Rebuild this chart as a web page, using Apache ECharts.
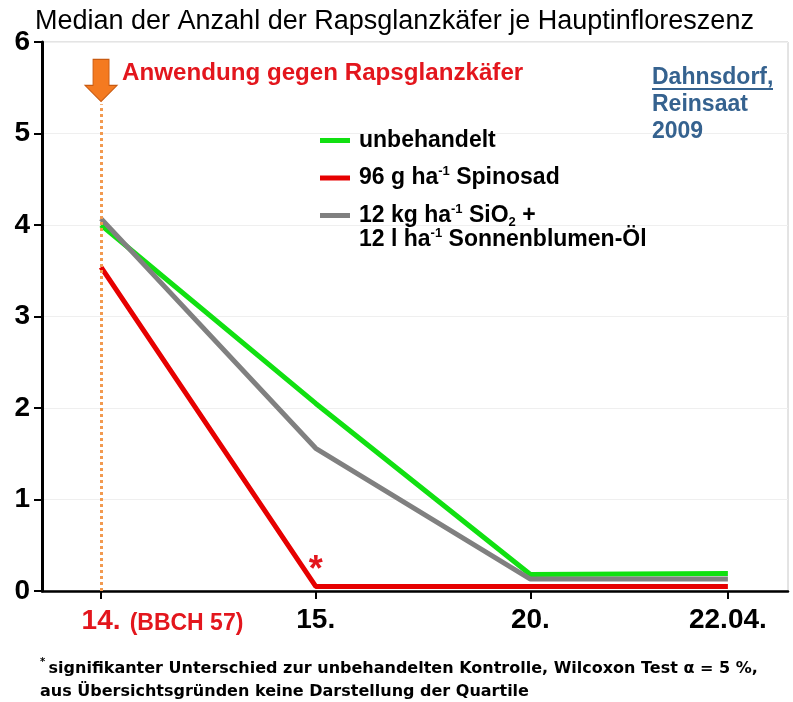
<!DOCTYPE html>
<html>
<head>
<meta charset="utf-8">
<script src="https://cdn.jsdelivr.net/npm/echarts@6/dist/echarts.min.js"></script>
<style>
  html, body { margin: 0; padding: 0; background: #fff; }
  #chart { width: 793px; height: 702px; }
</style>
</head>
<body>
<div id="chart"></div>
<script>
// Termine (Tag im April) und ihre Lage auf der x-Achse
const dates = ['14.', '15.', '20.', '22.04.']
const xPos = [0, 1, 2, 2.92]

// Median Rapsglanzkäfer je Hauptinfloreszenz
const unbehandelt = [4.0, 2.05, 0.18, 0.19]
const spinosad = [3.54, 0.05, 0.05, 0.05]
const sio2Oel = [4.07, 1.56, 0.13, 0.13]

const yTicks = [0, 1, 2, 3, 4, 5, 6]

const FONT = '"Liberation Sans", Arial, sans-serif'
const RED = '#e3161d'
const BLUE = '#35628f'

function pairs(vals) {
  return vals.map((v, i) => [xPos[i], v])
}

const chart = echarts.init(document.getElementById('chart'))

const supRich = {
  t: { fontSize: 23, fontWeight: 'bold', color: '#000', fontFamily: FONT, lineHeight: 26 },
  sup: { fontSize: 13, fontWeight: 'bold', color: '#000', fontFamily: FONT, lineHeight: 13, verticalAlign: 'top' },
  sub: { fontSize: 13, fontWeight: 'bold', color: '#000', fontFamily: FONT, lineHeight: 13, verticalAlign: 'bottom' }
}

const legendText = {
  'unbehandelt': '{t|unbehandelt}',
  '96 g ha-1 Spinosad': '{t|96 g ha}{sup|-1}{t| Spinosad}',
  '12 kg ha-1 SiO2 + 12 l ha-1 Sonnenblumen-Öl': '{t|12 kg ha}{sup|-1}{t| SiO}{sub|2}{t| +}'
}

function blueText(txt, top) {
  return {
    type: 'text', left: 652, top: top, z: 100,
    style: { text: txt, fontFamily: FONT, fontWeight: 'bold', fontSize: 23, fill: BLUE }
  }
}

const option = {
  animation: false,
  backgroundColor: '#fff',
  textStyle: { fontFamily: FONT },
  title: {
    text: 'Median der Anzahl der Rapsglanzkäfer je Hauptinfloreszenz',
    left: 30,
    top: 3,
    textStyle: { fontSize: 27, fontWeight: 'normal', color: '#000', fontFamily: FONT }
  },
  grid: {
    left: 42,
    right: 5,
    top: 42,
    bottom: 111,
    containLabel: false,
    outerBoundsMode: 'none',
    show: true,
    borderColor: '#c8c8c8',
    borderWidth: 1
  },
  legend: {
    orient: 'vertical',
    left: 315,
    top: 124,
    itemWidth: 30,
    itemHeight: 5,
    itemGap: 13,
    icon: 'rect',
    data: ['unbehandelt', '96 g ha-1 Spinosad', '12 kg ha-1 SiO2 + 12 l ha-1 Sonnenblumen-Öl'],
    formatter: name => legendText[name],
    textStyle: { rich: supRich, padding: [0, 0, 0, 4] }
  },
  xAxis: {
    type: 'value',
    min: -0.275,
    max: 3.2,
    splitLine: { show: false },
    axisLine: { onZero: false, lineStyle: { color: '#000', width: 2.5 } },
    axisTick: { show: true, length: 8, lineStyle: { color: '#000', width: 2 }, customValues: xPos },
    axisLabel: {
      customValues: xPos,
      margin: 14,
      formatter: v => {
        const i = xPos.findIndex(p => Math.abs(p - v) < 1e-6)
        if (i === 0) return '{pad|}{r|' + dates[0] + '}{b|(BBCH 57)}'
        return '{n|' + dates[i] + '}'
      },
      rich: {
        pad: { width: 126, lineHeight: 30, verticalAlign: 'bottom' },
        r: { fontSize: 28, fontWeight: 'bold', color: RED, fontFamily: FONT, lineHeight: 30, verticalAlign: 'bottom', padding: [0, 6, 0, 0] },
        b: { fontSize: 23, fontWeight: 'bold', color: RED, fontFamily: FONT, lineHeight: 27, verticalAlign: 'bottom', width: 120 },
        n: { fontSize: 28, fontWeight: 'bold', color: '#000', fontFamily: FONT, lineHeight: 30 }
      }
    }
  },
  yAxis: {
    type: 'value',
    min: yTicks[0],
    max: yTicks[yTicks.length - 1],
    interval: 1,
    splitLine: { show: true, lineStyle: { color: '#efefef', width: 1 } },
    axisLine: { show: true, onZero: false, lineStyle: { color: '#000', width: 3 } },
    axisTick: { show: true, length: 8, lineStyle: { color: '#000', width: 2 } },
    axisLabel: { fontSize: 28, fontWeight: 'bold', color: '#000', fontFamily: FONT, margin: 12 }
  },
  series: [
    {
      name: 'unbehandelt',
      type: 'line',
      data: pairs(unbehandelt),
      symbol: 'none',
      lineStyle: { color: '#11e011', width: 5 },
      itemStyle: { color: '#11e011' },
      z: 2,
      markLine: {
        silent: true,
        symbol: 'none',
        label: { show: false },
        lineStyle: { color: '#f29a50', width: 3, type: [3, 3] },
        data: [[{ coord: [xPos[0], 0] }, { coord: [xPos[0], 5.32] }]]
      },
      markPoint: {
        silent: true,
        symbol: 'path://M8,0 L24,0 L24,26 L32,26 L16,42 L0,26 L8,26 Z',
        symbolSize: [32, 42],
        itemStyle: { color: '#f47a20', borderColor: '#c85a10', borderWidth: 1 },
        label: { show: false },
        data: [{ coord: [xPos[0], 5.58] }]
      }
    },
    {
      name: '12 kg ha-1 SiO2 + 12 l ha-1 Sonnenblumen-Öl',
      type: 'line',
      data: pairs(sio2Oel),
      symbol: 'none',
      lineStyle: { color: '#808080', width: 5 },
      itemStyle: { color: '#808080' },
      z: 3
    },
    {
      name: '96 g ha-1 Spinosad',
      type: 'line',
      data: pairs(spinosad),
      symbol: 'none',
      lineStyle: { color: '#e60000', width: 5 },
      itemStyle: { color: '#e60000' },
      z: 4,
      markPoint: {
        silent: true,
        symbol: 'circle',
        symbolSize: 1,
        itemStyle: { color: 'transparent' },
        label: {
          show: true, position: 'inside', formatter: '*',
          fontSize: 36, fontWeight: 'bold', color: RED, fontFamily: FONT
        },
        data: [{ coord: [xPos[1], 0.22] }]
      }
    }
  ],
  graphic: [
    {
      type: 'text', left: 122, top: 62, scaleX: 1.05, z: 100,
      style: { text: 'Anwendung gegen Rapsglanzkäfer', fontFamily: FONT, fontWeight: 'bold', fontSize: 23, fill: RED }
    },
    {
      type: 'text', left: 359, top: 227, z: 100,
      style: { text: '{t|12 l ha}{sup|-1}{t| Sonnenblumen-Öl}', rich: supRich }
    },
    blueText('Dahnsdorf,', 66),
    blueText('Reinsaat', 93),
    blueText('2009', 120),
    {
      type: 'line', z: 100, shape: { x1: 652, y1: 89, x2: 773, y2: 89 },
      style: { stroke: BLUE, lineWidth: 2 }
    },
    {
      type: 'text', left: 40, top: 657, z: 100,
      style: {
        text: '{s|*} {f|signifikanter Unterschied zur unbehandelten Kontrolle, Wilcoxon Test α = 5 %,}\n{f|aus Übersichtsgründen keine Darstellung der Quartile}',
        rich: {
          s: { fontSize: 10, fontWeight: 'bold', fill: '#000', fontFamily: '"DejaVu Sans", sans-serif', lineHeight: 10, verticalAlign: 'top' },
          f: { fontSize: 16, fontWeight: 'bold', fill: '#000', fontFamily: '"DejaVu Sans", sans-serif', lineHeight: 23 }
        }
      }
    }
  ]
}

chart.setOption(option)
</script>
</body>
</html>
